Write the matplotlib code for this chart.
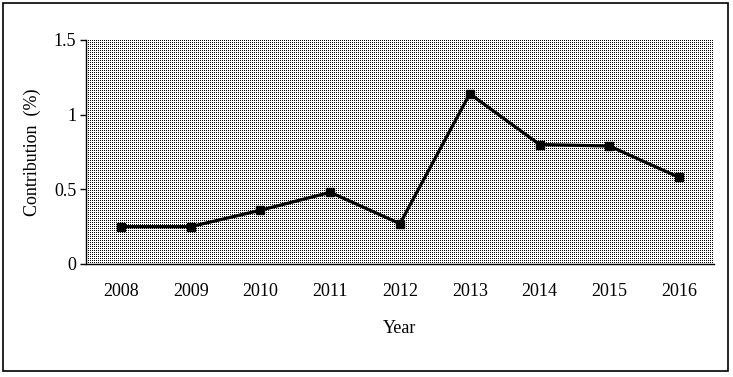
import matplotlib.pyplot as plt
import numpy as np
from matplotlib.patches import Rectangle

years = ['2008', '2009', '2010', '2011', '2012', '2013', '2014', '2015', '2016']
contribution = [0.25, 0.25, 0.36, 0.48, 0.27, 1.14, 0.80, 0.79, 0.58]
yticks = [0, 0.5, 1, 1.5]
ylabels = ['0', '0.5', '1', '1.5']

plt.rcParams['font.family'] = ['Liberation Serif', 'DejaVu Serif']

W, H = 733, 377
fig = plt.figure(figsize=(W / 100, H / 100), dpi=100)

# outer frame
fig.patches.append(Rectangle((3 / W, 6 / H), 725 / W, 368 / H, transform=fig.transFigure,
                             fill=False, edgecolor='black', linewidth=1.2))

left, right, top, bottom = 86, 714, 40, 264
ax = fig.add_axes([left / W, 1 - bottom / H, (right - left) / W, (bottom - top) / H])
ax.patch.set_alpha(0)

# dotted plot-area fill, placed pixel for pixel
pw, ph = right - left, bottom - top
dots = np.ones((ph, pw))
dots[::2, ::2] = 0
fig.figimage(dots, xo=left, yo=H - bottom, cmap='gray', vmin=0, vmax=1, origin='upper', zorder=-1)

x = np.arange(len(years))
ax.plot(x, contribution, color='black', linewidth=2.3, marker='s', markersize=6, zorder=3)

ax.set_xlim(-0.5, len(years) - 0.5)
ax.set_ylim(0, 1.5)
ax.set_xticks(x)
ax.set_xticklabels(years, fontsize=13)
ax.set_yticks(yticks)
ax.set_yticklabels(ylabels, fontsize=13)
ax.tick_params(axis='x', length=0, pad=14)
ax.tick_params(axis='y', length=4, width=1, direction='out', pad=3)

ax.spines['top'].set_visible(False)
ax.spines['right'].set_visible(False)
ax.spines['left'].set_linewidth(1)
ax.spines['bottom'].set_linewidth(1)

ax.set_xlabel('Year', fontsize=13, labelpad=14)
ax.set_ylabel('Contribution  (%)', fontsize=13, labelpad=9)

fig.savefig('out.png', dpi=100)
